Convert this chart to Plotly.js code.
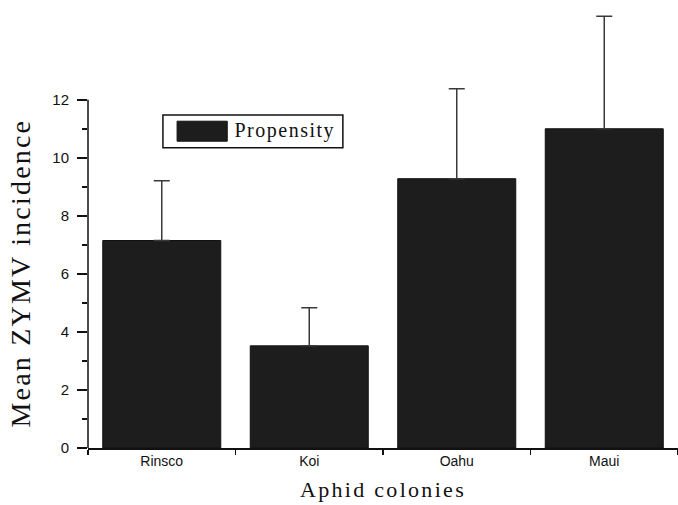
<!DOCTYPE html>
<html>
<head>
<meta charset="utf-8">
<script src="https://cdn.plot.ly/plotly-3.0.1.min.js"></script>
<style>
  html, body { margin: 0; padding: 0; background: #fff; }
  #chart { width: 678px; height: 505px; }
  .xtitle { letter-spacing: 2.3px; }
  g.annotation[data-index="0"] .annotation-text { letter-spacing: 1.5px; }
  g.annotation[data-index="1"] .annotation-text { letter-spacing: 2.2px; }
</style>
</head>
<body>
<div id="chart"></div>
<script>
// Data
var colonies = ["Rinsco", "Koi", "Oahu", "Maui"];
var meanIncidence = [7.15, 3.52, 9.28, 11.0];
var errorUp = [2.06, 1.31, 3.1, 3.88];
var errorDown = [0, 0, 0, 0];
var seriesName = "Propensity";
var yTickValues = [0, 2, 4, 6, 8, 10, 12];
var yMinorTickValues = [1, 3, 5, 7, 9, 11];
var xTitle = "Aphid colonies";
var yTitle = "Mean ZYMV incidence";

var serif = "Liberation Serif, Times New Roman, serif";
var sans = "Liberation Sans, Arial, sans-serif";

var trace = {
  type: "bar",
  x: colonies,
  y: meanIncidence,
  name: seriesName,
  marker: { color: "#1d1d1d", line: { color: "#111", width: 1 } },
  error_y: {
    type: "data",
    symmetric: false,
    array: errorUp,
    arrayminus: errorDown,
    color: "#3a3a3a",
    thickness: 1.5,
    width: 8
  },
  showlegend: false
};

var layout = {
  width: 678,
  height: 505,
  margin: { l: 88, r: 0, t: 4, b: 57 },
  paper_bgcolor: "#fff",
  plot_bgcolor: "#fff",
  bargap: 0.2,
  showlegend: false,
  xaxis: {
    type: "category",
    showline: true,
    linecolor: "#111",
    linewidth: 1.5,
    ticks: "outside",
    tickson: "boundaries",
    ticklen: 5,
    tickwidth: 1.5,
    tickcolor: "#111",
    showgrid: false,
    zeroline: false,
    tickfont: { family: sans, size: 14, color: "#111" },
    title: { text: xTitle, font: { family: serif, size: 22, color: "#111" }, standoff: 13 },
    automargin: false
  },
  yaxis: {
    range: [0, 15.3],
    showline: false,
    showgrid: false,
    zeroline: false,
    tickmode: "array",
    tickvals: yTickValues,
    ticktext: yTickValues.map(String),
    ticks: "outside",
    ticklen: 10,
    tickwidth: 1.5,
    tickcolor: "#111",
    minor: { tickmode: "array", tickvals: yMinorTickValues, ticks: "outside", ticklen: 5, tickwidth: 1.5, tickcolor: "#111" },
    ticklabelstandoff: 5,
    tickfont: { family: sans, size: 15, color: "#111" },
    automargin: false
  },
  shapes: [
    // y axis line from 0 to 12
    { type: "line", xref: "paper", yref: "y", x0: 0, x1: 0, y0: 0, y1: 12, line: { color: "#111", width: 1.5 } },
    // legend box
    { type: "rect", xref: "paper", yref: "paper", x0: 0.127, x1: 0.432, y0: 0.676, y1: 0.750, line: { color: "#111", width: 1.5 }, fillcolor: "rgba(0,0,0,0)" },
    // legend swatch
    { type: "rect", xref: "paper", yref: "paper", x0: 0.151, x1: 0.236, y0: 0.691, y1: 0.736, line: { color: "#111", width: 1 }, fillcolor: "#1d1d1d" }
  ],
  annotations: [
    { xref: "paper", yref: "paper", x: 0.258, y: 0.714, xanchor: "left", yanchor: "middle", showarrow: false,
      text: seriesName, font: { family: serif, size: 20, color: "#111" } },
    { xref: "paper", yref: "paper", x: -0.115, y: 0.393, xanchor: "center", yanchor: "middle", showarrow: false,
      textangle: -90, text: yTitle, font: { family: serif, size: 28, color: "#111" } }
  ]
};

Plotly.newPlot("chart", [trace], layout, { displayModeBar: false, staticPlot: true });
</script>
</body>
</html>
